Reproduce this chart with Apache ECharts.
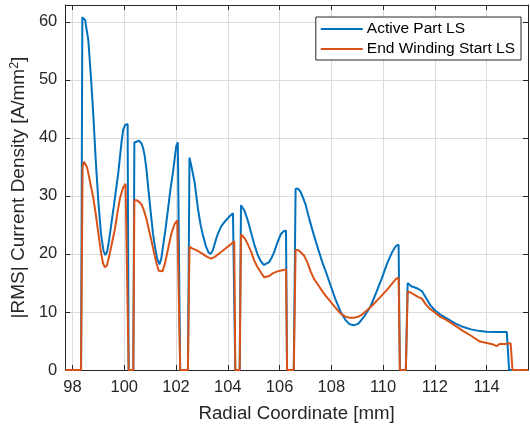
<!DOCTYPE html>
<html>
<head>
<meta charset="utf-8">
<script src="https://cdn.jsdelivr.net/npm/echarts@6/dist/echarts.min.js"></script>
<style>html,body{margin:0;padding:0;background:#fff}#c{width:530px;height:428px}</style>
</head>
<body>
<div id="c"></div>
<script>
const seriesNames = ['Active Part LS', 'End Winding Start LS'];
const radialActive = [97.72,98.33,98.38,98.43,98.49,98.55,98.61,98.72,98.81,98.9,99.0,99.1,99.2,99.27,99.33,99.38,99.48,99.58,99.68,99.77,99.84,99.9,99.96,100.03,100.1,100.13,100.17,100.35,100.39,100.45,100.58,100.67,100.73,100.79,100.86,100.92,100.98,101.05,101.11,101.18,101.27,101.36,101.43,101.5,101.6,101.69,101.78,101.88,101.95,102.01,102.07,102.12,102.16,102.46,102.52,102.6,102.72,102.85,102.95,103.04,103.15,103.25,103.33,103.42,103.55,103.62,103.75,103.87,104.05,104.2,104.25,104.29,104.46,104.51,104.57,104.64,104.77,104.9,105.02,105.15,105.28,105.4,105.47,105.6,105.7,105.79,105.92,106.05,106.15,106.25,106.29,106.55,106.62,106.7,106.8,106.9,107.0,107.15,107.33,107.5,107.65,107.8,107.97,108.15,108.36,108.55,108.7,108.87,109.05,109.25,109.51,109.75,109.95,110.15,110.35,110.5,110.6,110.65,110.88,110.95,111.0,111.1,111.18,111.35,111.5,111.65,111.82,112.0,112.2,112.46,112.8,113.1,113.4,113.74,114.0,114.4,114.78,114.87,115.6];
const densityActive = [0,0,60.8,61.0,60.3,58.5,56.9,50,43.5,36,29,23.5,20.5,19.8,20.3,21.4,24.5,27.7,31,34.0,37,39.5,41.4,42.2,42.5,42.4,0,0,39.2,39.5,39.5,39.0,38.2,36.9,34.5,31.7,29,26,23.5,21.4,19.2,18.2,19.2,21.4,24.5,27.7,31,34,36.5,38.6,39.2,39.3,0,0,36.6,35,32.3,27.7,25,23.2,21.4,20.3,20.0,20.6,22.6,23.5,24.8,25.5,26.4,27.0,27.1,0,0,28.4,28.2,27.5,25.8,23.7,21.7,19.9,18.7,18.1,18.1,18.6,19.4,20.3,22.0,23.4,23.9,24.0,0,0,31.2,31.3,30.8,29.8,28.6,26,23.2,20.7,18.6,16.8,14.6,12.3,10.0,8.6,7.9,7.7,8.0,9.1,10.9,13.5,15.8,18.3,20.3,21.4,21.6,0,0,15.0,14.8,14.4,14.3,14.0,13.6,12.5,11.2,10.3,9.6,8.9,8.0,7.4,7.0,6.7,6.6,6.55,6.55,0,0];
const radialEnd = [97.72,98.33,98.39,98.44,98.5,98.56,98.63,98.72,98.81,98.9,99.0,99.1,99.18,99.25,99.33,99.45,99.55,99.64,99.74,99.83,99.96,100.05,100.12,100.17,100.35,100.39,100.5,100.6,100.67,100.76,100.86,100.95,101.05,101.15,101.25,101.33,101.4,101.48,101.58,101.69,101.82,101.95,102.05,102.12,102.16,102.46,102.52,102.6,102.8,103.0,103.2,103.36,103.5,103.7,103.9,104.1,104.25,104.29,104.46,104.51,104.58,104.67,104.77,104.9,105.02,105.15,105.28,105.4,105.47,105.6,105.75,105.92,106.1,106.25,106.29,106.55,106.62,106.72,106.82,106.95,107.1,107.2,107.33,107.5,107.65,107.8,107.97,108.15,108.36,108.55,108.7,108.87,109.05,109.2,109.38,109.6,109.9,110.15,110.35,110.5,110.6,110.65,110.88,110.95,111.05,111.2,111.35,111.5,111.65,111.82,112.0,112.2,112.46,112.8,113.1,113.4,113.74,114.05,114.25,114.38,114.51,114.7,114.93,115.0,115.6];
const densityEnd = [0,0,35.0,35.9,35.9,35.0,33.5,31.5,29.5,26.8,23.5,20.3,18.4,17.7,18.0,20.3,22.4,24.3,27.2,29.5,31.5,32.1,32.2,0,0,29.3,29.2,28.9,28.5,27.5,26.0,24.2,22.3,20.2,18.3,17.1,16.8,17.0,18.5,20.8,23.5,25.2,25.8,26.0,0,0,21.3,21.0,20.6,20.1,19.5,19.2,19.5,20.2,20.9,21.6,22.2,0,0,23.4,23.2,22.6,21.7,20.4,18.9,17.7,16.8,16.0,15.9,16.2,16.7,17.0,17.2,17.3,0,0,20.7,20.7,20.3,19.7,18.3,17.0,15.7,14.6,13.6,12.7,11.8,10.8,9.7,9.2,9.0,9.0,9.2,9.6,10.3,11.2,12.6,13.8,14.9,15.7,15.9,0,0,13.5,13.4,13.0,12.6,12.3,11.3,10.5,9.9,9.2,8.6,7.6,6.7,5.9,4.9,4.6,4.4,4.1,4.5,4.5,4.6,0,0];
const xRange = [97.72, 115.6];
const yRange = [0, 62.9];

const zip = (xs, ys) => xs.map((x, i) => [x, ys[i]]);
const FONT = 'Liberation Sans, Arial, Helvetica, sans-serif';
const AX = '#262626';
const GRIDC = '#dcdcdc';
const COLORS = ['#0072BD', '#D95319'];

const chart = echarts.init(document.getElementById('c'), null, {renderer: 'canvas'});
const baseX = {
  type: 'value', min: xRange[0], max: xRange[1], splitNumber: 9,
  axisLine: {show: true, onZero: false, lineStyle: {color: AX, width: 1}},
  axisTick: {show: true, inside: true, length: 5, lineStyle: {color: AX}},
};
const baseY = {
  type: 'value', min: yRange[0], max: yRange[1], splitNumber: 6,
  axisLine: {show: true, onZero: false, lineStyle: {color: AX, width: 1}},
  axisTick: {show: true, inside: true, length: 5, lineStyle: {color: AX}},
};
chart.setOption({
  animation: false,
  backgroundColor: '#fff',
  grid: {left: 63, right: 2, top: 5, bottom: 56, containLabel: false},
  legend: {
    right: 9, top: 17, orient: 'vertical', icon: 'rect',
    backgroundColor: '#fff', borderColor: AX, borderWidth: 1, borderRadius: 0,
    padding: [3, 6, 2, 5], itemGap: 2, itemWidth: 42, itemHeight: 2.2,
    textStyle: {fontFamily: FONT, fontSize: 15.5, color: '#000', lineHeight: 18, padding: [0, 0, 0, -1]},
    data: seriesNames
  },
  xAxis: [
    Object.assign({}, baseX, {
      position: 'bottom',
      name: 'Radial Coordinate [mm]', nameLocation: 'middle', nameGap: 34,
      nameTextStyle: {fontFamily: FONT, fontSize: 18.7, color: AX},
      axisLabel: {show: true, margin: 9, showMinLabel: false, showMaxLabel: false,
        fontFamily: FONT, fontSize: 16.5, color: AX},
      splitLine: {show: true, lineStyle: {color: GRIDC, width: 1}}
    }),
    Object.assign({}, baseX, {
      position: 'top', axisLabel: {show: false}, splitLine: {show: false}
    })
  ],
  yAxis: [
    Object.assign({}, baseY, {
      position: 'left',
      name: '|RMS| Current Density [A/mm{sup|2}]', nameLocation: 'middle', nameGap: 31,
      nameTextStyle: {fontFamily: FONT, fontSize: 19, color: AX,
        rich: {sup: {fontFamily: FONT, fontSize: 12.5, color: AX, verticalAlign: 'top', padding: [0, 0, 8, 0]}}},
      axisLabel: {show: true, margin: 8, showMaxLabel: false,
        fontFamily: FONT, fontSize: 16.5, color: AX},
      splitLine: {show: true, lineStyle: {color: GRIDC, width: 1}}
    }),
    Object.assign({}, baseY, {
      position: 'right', axisLabel: {show: false}, splitLine: {show: false}
    })
  ],
  series: [
    {name: seriesNames[0], type: 'line', data: zip(radialActive, densityActive),
     symbol: 'none', smooth: false, z: 3, clip: true,
     lineStyle: {color: COLORS[0], width: 2}, itemStyle: {color: COLORS[0]}},
    {name: seriesNames[1], type: 'line', data: zip(radialEnd, densityEnd),
     symbol: 'none', smooth: false, z: 4, clip: true,
     lineStyle: {color: COLORS[1], width: 2}, itemStyle: {color: COLORS[1]}}
  ]
});
</script>
</body>
</html>
